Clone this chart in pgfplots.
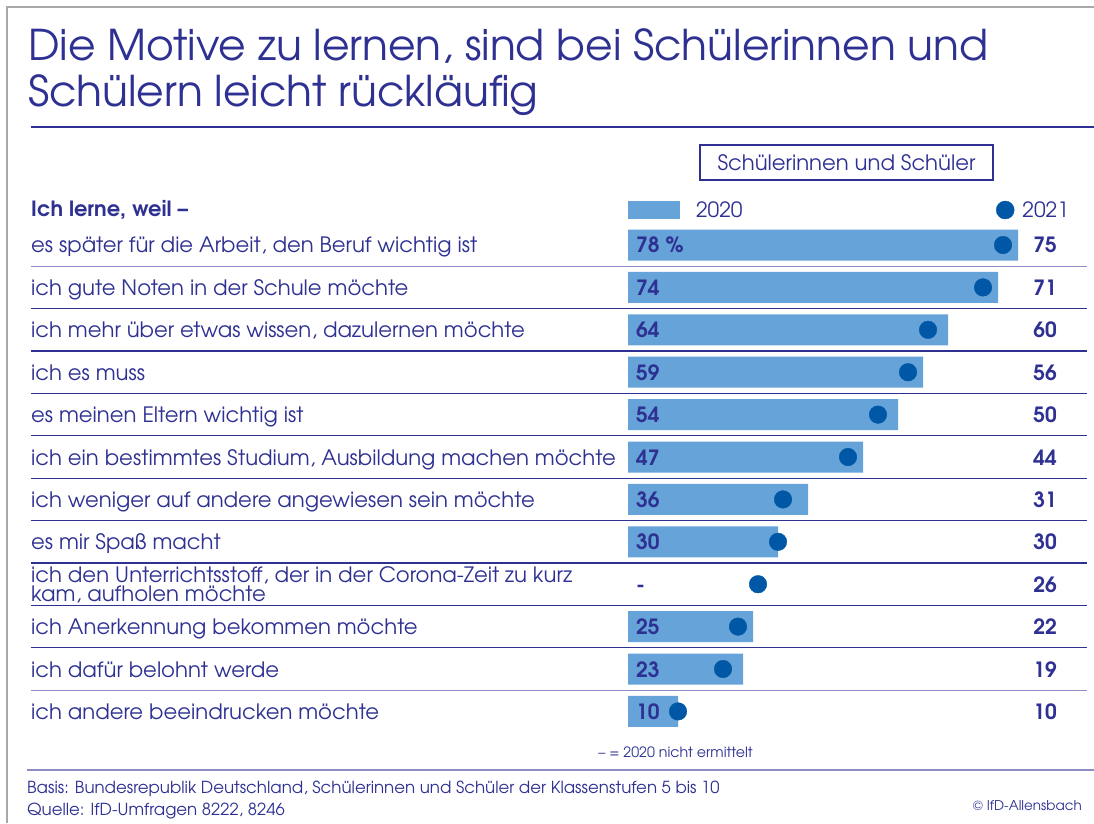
\documentclass[border=0pt]{standalone}
\usepackage{pgfplots}
\pgfplotsset{compat=1.18}
\usepackage{fontspec}
\setmainfont{TeX Gyre Adventor}

\definecolor{ink}{HTML}{2E3192}
\definecolor{barblue}{HTML}{65A3D8}
\definecolor{dotblue}{HTML}{0057A6}
\definecolor{rulelight}{HTML}{8E8CC4}
\definecolor{framegray}{HTML}{A8A8A8}

\begin{document}
\begin{tikzpicture}
\path[use as bounding box] (0,0) rectangle (1094pt,823pt);
% axis in pixel-like units: x = (px-628)/5, row i at py = 245 + 42.4(i-1)
\begin{axis}[
    at={(0,0)}, anchor=south west,
    width=1094pt, height=823pt, scale only axis,
    hide axis, clip=false,
    xmin=-125.6, xmax=93.2,
    ymin=-4.7783, ymax=14.632,
    y dir=reverse,
    legend style={
        at={(axis cs:0,0.1745)}, anchor=west,
        draw=none, fill=none, inner sep=0pt, outer sep=0pt,
        legend columns=2,
        nodes={inner sep=0pt, text=ink},
        font=\fontsize{21}{24}\selectfont,
        cells={anchor=west}
    }
]
% 2020 (row 9 not asked in 2020)
\addplot[xbar, bar shift=0pt, bar width=31pt, fill=barblue, draw=none,
    legend image code/.code={\fill[barblue] (0pt,-9pt) rectangle (52pt,9pt);}]
    coordinates {
    (78,1) (74,2) (64,3) (59,4) (54,5) (47,6) (36,7) (30,8)
    (25,10) (23,11) (10,12)
    };
% 2021
\addplot[only marks, mark=*, mark size=8.8pt, color=dotblue,
    legend image code/.code={\fill[dotblue] (9pt,0pt) circle (9pt);}]
    coordinates {
    (75,1) (71,2) (60,3) (56,4) (50,5) (44,6) (31,7) (30,8)
    (26,9) (22,10) (19,11) (10,12)
    };
\legend{\makebox[316pt][l]{\hspace{16pt}2020}, \hspace{8pt}2021}
\end{axis}

\begin{scope}[shift={(0pt,823pt)}, x=1pt, y=-1pt]
% frame
\draw[framegray, line width=2pt] (7,823) -- (7,7) -- (1094,7);
% title
\node[anchor=base west, inner sep=0pt, text=ink, font=\fontsize{42.4}{46}\selectfont]
    at (28,61) {Die Motive zu lernen, sind bei Schülerinnen und};
\node[anchor=base west, inner sep=0pt, text=ink, font=\fontsize{42.4}{46}\selectfont]
    at (28,107) {Schülern leicht rückläufig};
\draw[ink, line width=1.5pt] (31,127) -- (1094,127);
% group box
\node[draw=ink, line width=1.3pt, minimum width=293pt, minimum height=35pt,
    inner sep=0pt, text=ink, font=\fontsize{21.2}{24}\selectfont]
    at (846.5,162.5) {Schülerinnen und Schüler};
% heading
\node[anchor=base west, inner sep=0pt, text=ink, font=\fontsize{21}{24}\selectfont\bfseries]
    at (31,217) {Ich lerne, weil –};
% row separators
\foreach \i in {2,...,10} {
    \pgfmathsetmacro\ys{245+42.4*(\i-0.5)}
    \draw[ink, line width=1.3pt] (31,\ys) -- (1087,\ys);
}
\draw[rulelight, line width=1.3pt] (31,266.2) -- (1087,266.2);
\draw[rulelight, line width=1.3pt] (31,690.2) -- (1087,690.2);
% row labels and values
\foreach \i/\lab/\va/\vb in {
    1/{es später für die Arbeit, den Beruf wichtig ist}/{78 \%}/75,
    2/{ich gute Noten in der Schule möchte}/74/71,
    3/{ich mehr über etwas wissen, dazulernen möchte}/64/60,
    4/{ich es muss}/59/56,
    5/{es meinen Eltern wichtig ist}/54/50,
    6/{ich ein bestimmtes Studium, Ausbildung machen möchte}/47/44,
    7/{ich weniger auf andere angewiesen sein möchte}/36/31,
    8/{es mir Spaß macht}/30/30,
    9/{}/{-}/26,
    10/{ich Anerkennung bekommen möchte}/25/22,
    11/{ich dafür belohnt werde}/23/19,
    12/{ich andere beeindrucken möchte}/10/10} {
    \pgfmathsetmacro\yb{245+42.4*(\i-1)+8}
    \node[anchor=base west, inner sep=0pt, text=ink, font=\fontsize{21.2}{24}\selectfont]
        at (31,\yb) {\lab};
    \node[anchor=base west, inner sep=0pt, text=ink, font=\fontsize{21}{24}\selectfont\bfseries]
        at (636,\yb) {\va};
    \node[anchor=base east, inner sep=0pt, text=ink, font=\fontsize{21}{24}\selectfont\bfseries]
        at (1057,\yb) {\vb};
}
\node[anchor=base west, inner sep=0pt, text=ink, font=\fontsize{21.2}{24}\selectfont]
    at (31,582) {ich den Unterrichtsstoff, der in der Corona-Zeit zu kurz};
\node[anchor=base west, inner sep=0pt, text=ink, font=\fontsize{21.2}{24}\selectfont]
    at (31,601.5) {kam, aufholen möchte};
% notes
\node[anchor=base, inner sep=0pt, text=ink, font=\fontsize{14.2}{17}\selectfont]
    at (675.5,757) {– = 2020 nicht ermittelt};
\draw[rulelight, line width=1.3pt] (27,770) -- (1094,770);
\node[anchor=base west, inner sep=0pt, text=ink, font=\fontsize{16.6}{19}\selectfont]
    at (27,793) {Basis: Bundesrepublik Deutschland, Schülerinnen und Schüler der Klassenstufen 5 bis 10};
\node[anchor=base west, inner sep=0pt, text=ink, font=\fontsize{16.6}{19}\selectfont]
    at (27,815) {Quelle: IfD-Umfragen 8222, 8246};
\node[anchor=base east, inner sep=0pt, text=ink, font=\fontsize{13.5}{16}\selectfont]
    at (1082,810) {© IfD-Allensbach};
\end{scope}
\end{tikzpicture}
\end{document}
